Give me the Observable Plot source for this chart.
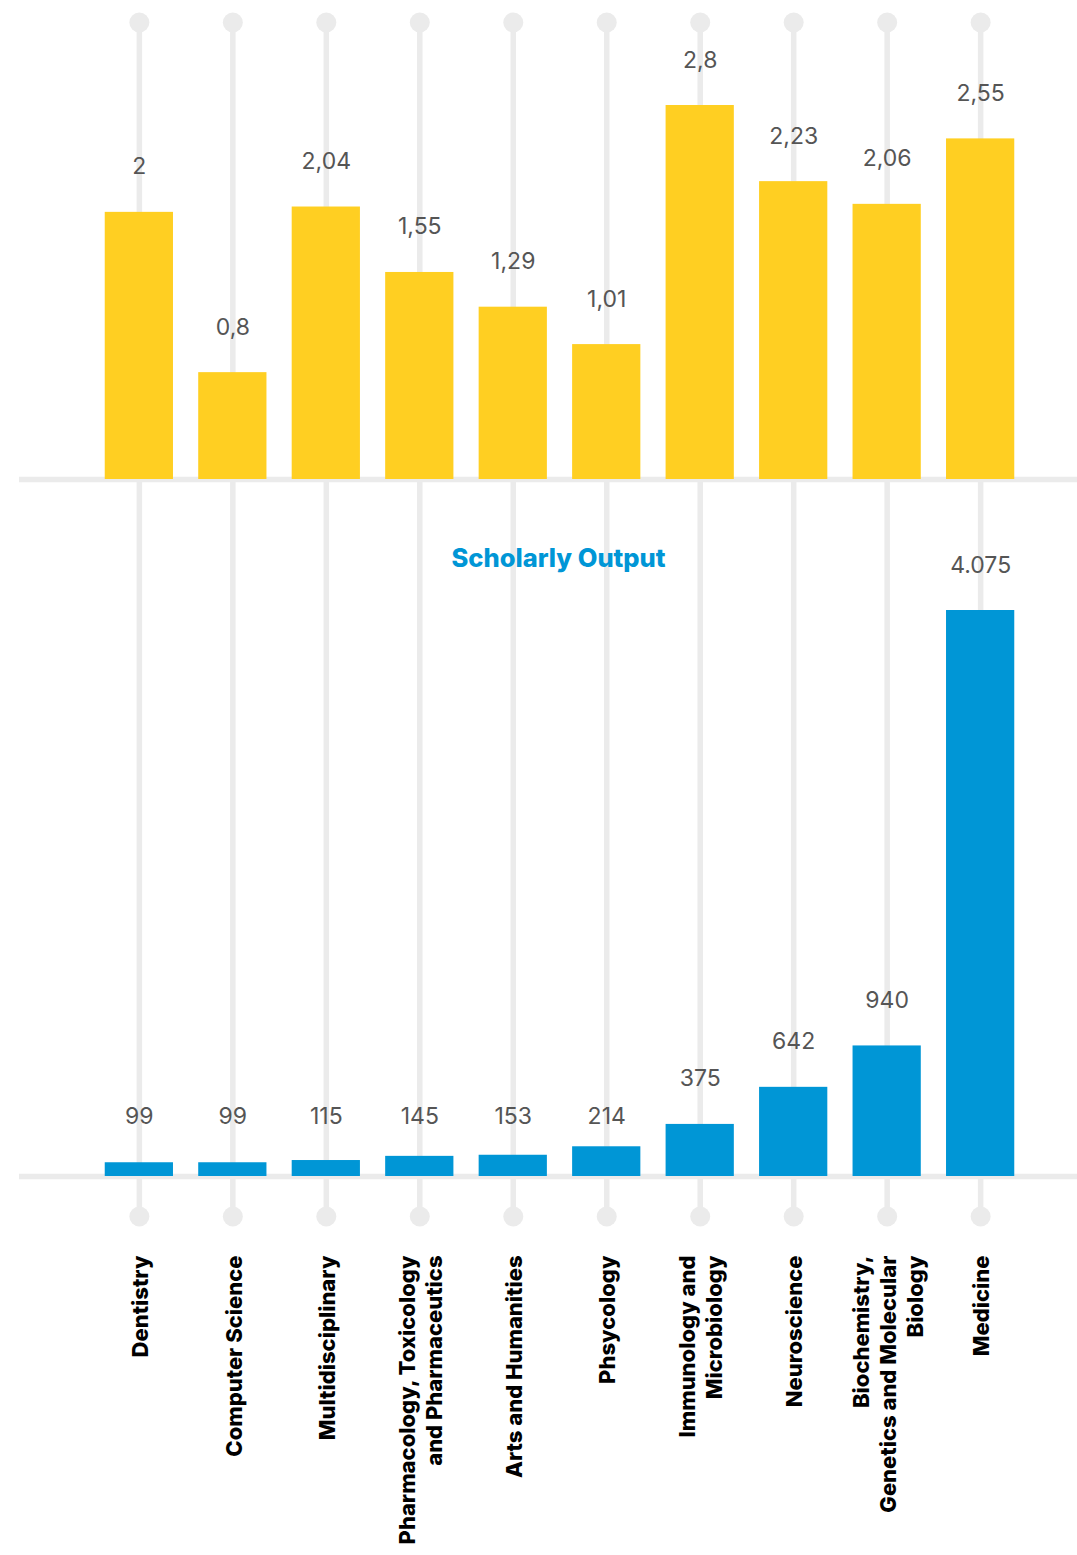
<!DOCTYPE html>
<html>
<head>
<meta charset="utf-8">
<script src="https://cdn.jsdelivr.net/npm/d3@7"></script>
<script src="https://cdn.jsdelivr.net/npm/@observablehq/plot@0.6"></script>
<style>
  html, body { margin: 0; padding: 0; background: #fff; }
  #chart svg { display: block; }
</style>
</head>
<body>
<div id="chart"></div>
<script>
const categories = [
  "Dentistry",
  "Computer Science",
  "Multidisciplinary",
  "Pharmacology, Toxicology\nand Pharmaceutics",
  "Arts and Humanities",
  "Phsycology",
  "Immunology and\nMicrobiology",
  "Neuroscience",
  "Biochemistry,\nGenetics and Molecular\nBiology",
  "Medicine"
];
const fwci = [2, 0.8, 2.04, 1.55, 1.29, 1.01, 2.8, 2.23, 2.06, 2.55];
const scholarlyOutput = [99, 99, 115, 145, 153, 214, 375, 642, 940, 4075];
const outputTitle = "Scholarly Output";
// small bars share one label row (as in the reference)
const smallLabelLimit = 300;
const smallLabelLevel = 106;

const YELLOW = "#FFCF22";
const BLUE = "#0096D6";
const GREY = "#EBEBEB";
const FONT = "Inter, 'Open Sans', sans-serif";

const topData = categories.map((c, i) => ({cat: c, value: fwci[i]}));
const botData = categories.map((c, i) => ({
  cat: c,
  value: scholarlyOutput[i],
  labelAt: scholarlyOutput[i] < smallLabelLimit ? smallLabelLevel : scholarlyOutput[i]
}));

const loc = d3.formatLocale({decimal: ",", thousands: ".", grouping: [3], currency: ["", ""]});
const fmtTop = v => String(v).replace(".", ",");
const fmtBot = loc.format(",");

const xScale = {domain: categories, range: [79.5, 1039.5], padding: 0.27, round: false, axis: null};

const topPlot = Plot.plot({
  width: 1077,
  height: 500,
  marginLeft: 19,
  marginRight: 0,
  marginTop: 22,
  marginBottom: 0,
  style: {fontFamily: FONT, background: "#fff"},
  x: xScale,
  y: {domain: [0, 2.8], range: [479, 105], axis: null},
  marks: [
    Plot.ruleX(categories, {x: d => d, stroke: GREY, strokeWidth: 5.5}),
    Plot.dot(categories, {x: d => d, frameAnchor: "top", r: 10, fill: GREY, stroke: null}),
    Plot.ruleY([0], {stroke: GREY, strokeWidth: 5.5}),
    Plot.barY(topData, {x: "cat", y: "value", fill: YELLOW}),
    Plot.text(topData, {x: "cat", y: "value", text: d => fmtTop(d.value), lineAnchor: "bottom", dy: -38, fontSize: 23, fill: "#555", fontFamily: FONT})
  ]
});

const botPlot = Plot.plot({
  width: 1077,
  height: 1055,
  marginLeft: 19,
  marginRight: 0,
  marginTop: 0,
  marginBottom: 339,
  style: {fontFamily: FONT, background: "#fff", overflow: "visible"},
  x: xScale,
  y: {domain: [0, 4075], range: [676, 110], axis: null},
  marks: [
    Plot.ruleX(categories, {x: d => d, stroke: GREY, strokeWidth: 5.5}),
    Plot.dot(categories, {x: d => d, frameAnchor: "bottom", r: 10, fill: GREY, stroke: null}),
    Plot.ruleY([0], {stroke: GREY, strokeWidth: 5.5}),
    Plot.barY(botData, {x: "cat", y: "value", fill: BLUE}),
    Plot.text(botData, {x: "cat", y: "labelAt", text: d => fmtBot(d.value), lineAnchor: "bottom", dy: -38, fontSize: 23, fill: "#555", fontFamily: FONT}),
    Plot.text([outputTitle], {text: d => d, frameAnchor: "top", dx: 10, dy: 58, lineAnchor: "middle", fontSize: 25.5, fontWeight: 800, fill: BLUE, fontFamily: FONT}),
    Plot.text(categories, {x: d => d, text: d => d, frameAnchor: "bottom", dy: 39, rotate: -90, textAnchor: "end", lineAnchor: "middle", lineHeight: 1.23, fontSize: 22, fontWeight: 800, fill: "#000", fontFamily: FONT})
  ]
});

const el = document.getElementById("chart");
el.appendChild(topPlot);
el.appendChild(botPlot);
</script>
</body>
</html>
